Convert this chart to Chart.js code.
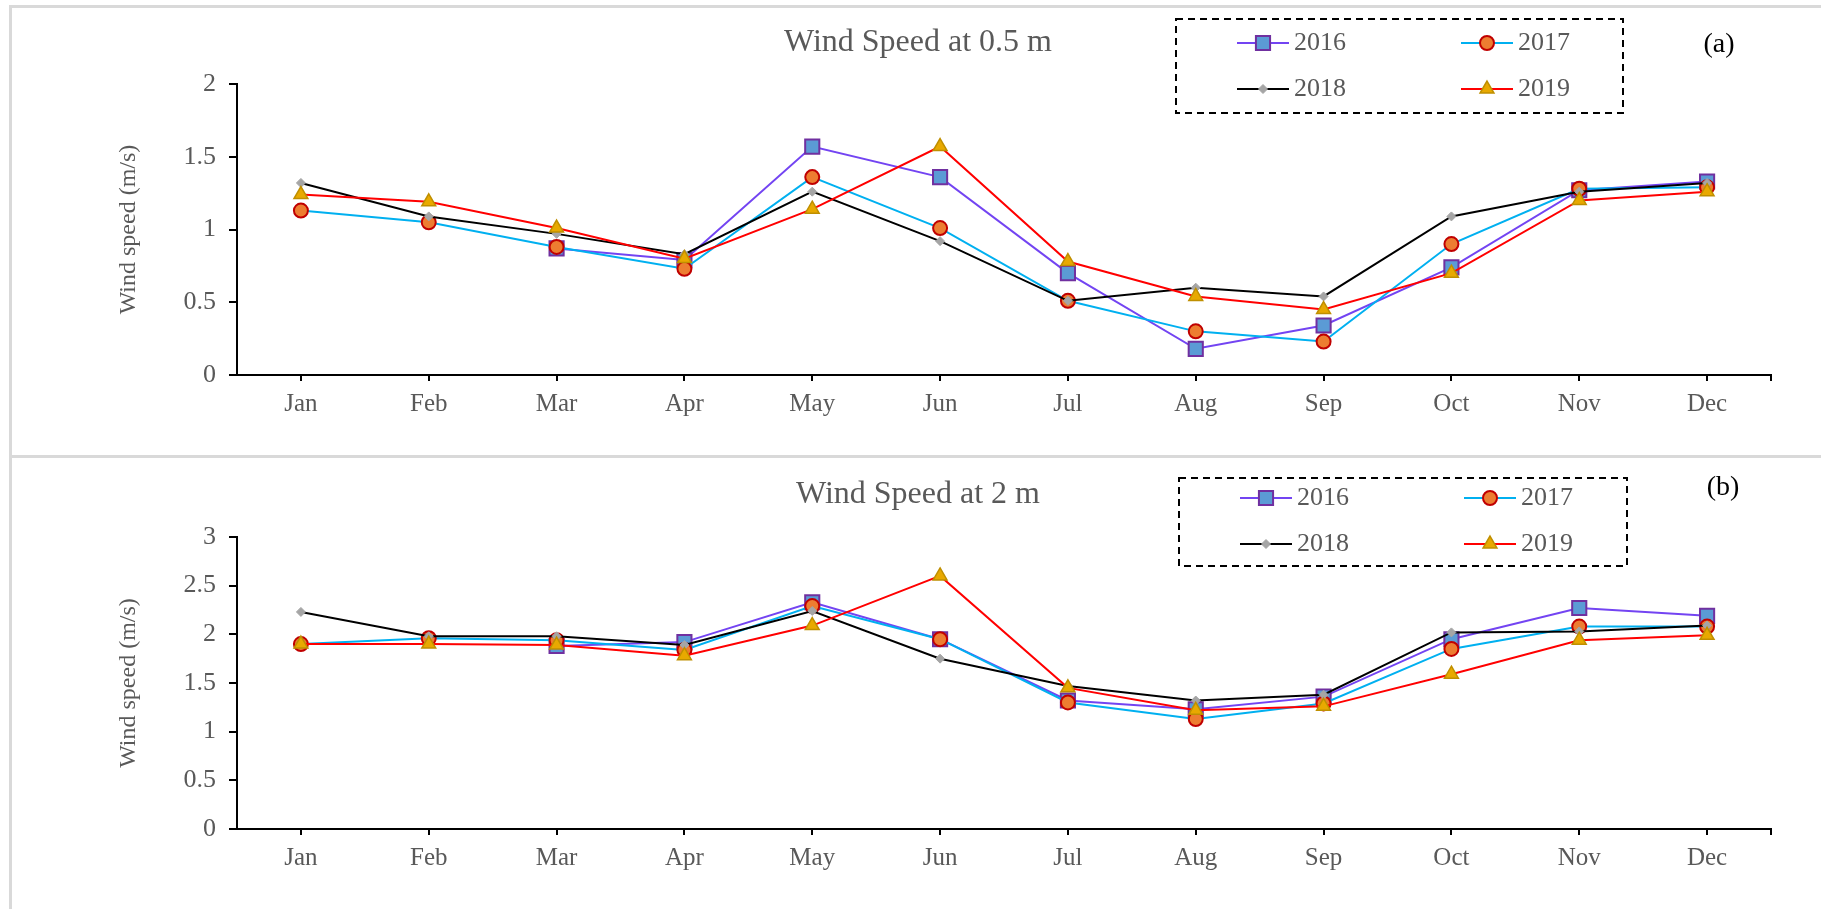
<!DOCTYPE html>
<html>
<head>
<meta charset="utf-8">
<script src="https://cdn.jsdelivr.net/npm/chart.js@4.4.0/dist/chart.umd.min.js"></script>
<style>
  body { margin: 0; width: 1821px; height: 909px; overflow: hidden; background: #fff; position: relative; }
  .frame { position: absolute; border-top: 3px solid #d9d9d9; border-left: 3px solid #d9d9d9; }
  canvas { position: absolute; left: 0; }
</style>
</head>
<body>
<div class="frame" style="left:9px;top:5px;width:1830px;height:460px"></div>
<div class="frame" style="left:9px;top:455px;width:1830px;height:460px"></div>
<canvas id="chart-a" width="1821" height="455" style="top:0"></canvas>
<canvas id="chart-b" width="1821" height="454" style="top:455px"></canvas>
<script>
//* wind speed by month, two heights */

const months = ['Jan', 'Feb', 'Mar', 'Apr', 'May', 'Jun', 'Jul', 'Aug', 'Sep', 'Oct', 'Nov', 'Dec']
const years = ['2016', '2017', '2018', '2019']

// 0.5 m
const a2016 = [null, null, 0.87, 0.79, 1.57, 1.36, 0.70, 0.18, 0.34, 0.74, 1.27, 1.33]
const a2017 = [1.13, 1.05, 0.88, 0.73, 1.36, 1.01, 0.51, 0.30, 0.23, 0.90, 1.28, 1.29]
const a2018 = [1.32, 1.09, 0.97, 0.83, 1.26, 0.92, 0.51, 0.60, 0.54, 1.09, 1.26, 1.32]
const a2019 = [1.24, 1.19, 1.01, 0.80, 1.14, 1.57, 0.78, 0.54, 0.45, 0.70, 1.20, 1.26]

// 2 m
const b2016 = [null, null, 1.88, 1.92, 2.33, 1.95, 1.32, 1.23, 1.36, 1.95, 2.27, 2.19]
const b2017 = [1.90, 1.96, 1.94, 1.84, 2.29, 1.95, 1.30, 1.13, 1.29, 1.85, 2.08, 2.08]
const b2018 = [2.23, 1.98, 1.98, 1.89, 2.24, 1.75, 1.47, 1.32, 1.38, 2.02, 2.03, 2.09]
const b2019 = [1.90, 1.90, 1.89, 1.78, 2.09, 2.60, 1.45, 1.22, 1.26, 1.59, 1.94, 1.99]

const serif = '"Liberation Serif", "Times New Roman", serif'
const grey = '#595959'

// line colour, marker style/fill/border, marker radius
const looks = [
  { line: '#7344f2', style: 'rect', fill: '#5b9bd5', edge: '#7030a0', r: 10, bw: 2 },
  { line: '#00b0f0', style: 'circle', fill: '#ed7d31', edge: '#c00000', r: 7, bw: 2 },
  { line: '#000000', style: 'rectRot', fill: '#a5a5a5', edge: '#a5a5a5', r: 4.5, bw: 1 },
  { line: '#ff0000', style: 'triangle', fill: '#e8a900', edge: '#bf8f00', r: 8, bw: 1.5 }
]

const boxLegend = {
  id: 'boxLegend',
  afterDraw(chart, args, opts) {
    const ctx = chart.ctx
    const b = opts.box
    ctx.save()
    // little end tick on the x axis
    ctx.strokeStyle = '#000'
    ctx.lineWidth = 2
    ctx.beginPath()
    ctx.moveTo(chart.chartArea.right, chart.chartArea.bottom)
    ctx.lineTo(chart.chartArea.right, chart.chartArea.bottom + 6)
    ctx.stroke()

    ctx.setLineDash([7, 5])
    ctx.strokeRect(b.x, b.y, b.w, b.h)
    ctx.setLineDash([])
    chart.data.datasets.forEach((ds, i) => {
      const col = i % 2
      const row = Math.floor(i / 2)
      const x0 = b.x + 61 + col * 224
      const y = b.y + b.rows[row]
      ctx.strokeStyle = ds.borderColor
      ctx.lineWidth = 2
      ctx.beginPath()
      ctx.moveTo(x0, y)
      ctx.lineTo(x0 + 52, y)
      ctx.stroke()
      ctx.fillStyle = ds.pointBackgroundColor
      ctx.strokeStyle = ds.pointBorderColor
      ctx.lineWidth = ds.pointBorderWidth
      Chart.helpers.drawPoint(ctx, {
        pointStyle: ds.pointStyle, radius: ds.pointRadius, rotation: 0, borderWidth: ds.pointBorderWidth
      }, x0 + 26, y)
      ctx.fillStyle = grey
      ctx.font = '26px ' + serif
      ctx.textBaseline = 'middle'
      ctx.textAlign = 'left'
      ctx.fillText(ds.label, x0 + 57, y)
    })
    ctx.fillStyle = '#000'
    ctx.font = '28px ' + serif
    ctx.textAlign = 'center'
    ctx.textBaseline = 'middle'
    ctx.fillText(opts.tag, opts.tagX, opts.tagY)
    ctx.restore()
  }
}

const makeChart = (id, title, series, yMax, lay) => {
  const datasets = series.map((vals, i) => {
    const lk = looks[i]
    return {
      label: years[i],
      data: vals,
      order: 4 - i,
      borderColor: lk.line,
      borderWidth: 2,
      tension: 0,
      pointStyle: lk.style,
      pointRadius: lk.r,
      pointBackgroundColor: lk.fill,
      pointBorderColor: lk.edge,
      pointBorderWidth: lk.bw
    }
  })

  return new Chart(id, {
    type: 'line',
    data: { labels: months, datasets: datasets },
    plugins: [boxLegend],
    options: {
      responsive: false,
      animation: false,
      events: [],
      layout: { padding: { left: 65, right: 50, top: 0, bottom: 0 } },
      plugins: {
        legend: { display: false },
        tooltip: { enabled: false },
        title: {
          display: true,
          text: title,
          color: grey,
          font: { family: serif, size: 32, weight: 'normal' },
          padding: { top: lay.titleTop, bottom: lay.titleBottom }
        },
        boxLegend: lay.legend
      },
      scales: {
        x: {
          offset: true,
          afterFit: (s) => { s.height = 80 },
          grid: { display: true, drawOnChartArea: false, drawTicks: true, tickLength: 6, color: '#000', lineWidth: 2, offset: false },
          border: { display: true, color: '#000', width: 2 },
          ticks: { color: grey, font: { family: serif, size: 25 }, padding: 8, maxRotation: 0 }
        },
        y: {
          min: 0,
          max: yMax,
          afterFit: (s) => { s.width = 172 },
          grid: { display: true, drawOnChartArea: false, drawTicks: true, tickLength: 8, color: '#000', lineWidth: 2 },
          border: { display: true, color: '#000', width: 2 },
          ticks: {
            stepSize: 0.5,
            color: grey,
            font: { family: serif, size: 26 },
            padding: 13,
            callback: (v) => String(v)
          },
          title: {
            display: true,
            text: 'Wind speed (m/s)',
            color: grey,
            font: { family: serif, size: 24 },
            padding: { top: 49, bottom: 0 }
          }
        }
      }
    }
  })
}

makeChart('chart-a', 'Wind Speed at 0.5 m', [a2016, a2017, a2018, a2019], 2, {
  titleTop: 23,
  titleBottom: 22.6,
  legend: { box: { x: 1176, y: 19, w: 447, h: 94, rows: [24, 70] }, tag: '(a)', tagX: 1719, tagY: 45 }
})

makeChart('chart-b', 'Wind Speed at 2 m', [b2016, b2017, b2018, b2019], 3, {
  titleTop: 20,
  titleBottom: 23.6,
  legend: { box: { x: 1179, y: 23, w: 448, h: 88, rows: [20, 66] }, tag: '(b)', tagX: 1723, tagY: 33 }
})
</script>
</body>
</html>
